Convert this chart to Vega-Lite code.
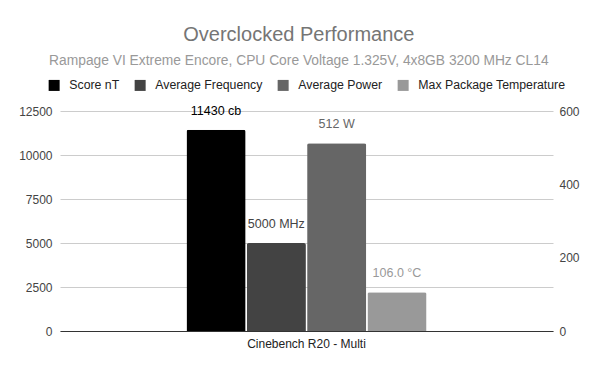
{
  "$schema": "https://vega.github.io/schema/vega-lite/v6.json",
  "width": 493,
  "height": 220,
  "padding": {"left": 18, "top": 25, "right": 0, "bottom": 0},
  "background": "#ffffff",
  "config": {
    "font": "Liberation Sans",
    "view": {"stroke": null},
    "axis": {"labelFont": "Liberation Sans", "labelColor": "#444444", "labelFontSize": 12, "titleFont": "Liberation Sans"},
    "legend": {"labelFont": "Liberation Sans", "layout": {"top": {"anchor": "middle"}}}
  },
  "title": {
    "text": "Overclocked Performance",
    "subtitle": "Rampage VI Extreme Encore, CPU Core Voltage 1.325V, 4x8GB 3200 MHz CL14",
    "fontSize": 20,
    "fontWeight": "normal",
    "color": "#757575",
    "subtitleFontSize": 13.8,
    "subtitleColor": "#999999",
    "subtitlePadding": 9,
    "anchor": "middle",
    "frame": "bounds",
    "offset": 11
  },
  "data": {
    "values": [
      {"benchmark": "Cinebench R20 - Multi", "series": "Score nT", "value": 11430, "label": "11430 cb", "axis": "left"},
      {"benchmark": "Cinebench R20 - Multi", "series": "Average Frequency", "value": 5000, "label": "5000 MHz", "axis": "left"},
      {"benchmark": "Cinebench R20 - Multi", "series": "Average Power", "value": 512, "label": "512 W", "axis": "right"},
      {"benchmark": "Cinebench R20 - Multi", "series": "Max Package Temperature", "value": 106.0, "label": "106.0 °C", "axis": "right"}
    ]
  },
  "encoding": {
    "x": {
      "field": "benchmark",
      "type": "nominal",
      "title": null,
      "scale": {"paddingInner": 0, "paddingOuter": 0.527},
      "axis": {"labelAngle": 0, "ticks": false, "domainColor": "#333333", "labelColor": "#222222", "labelPadding": 7, "grid": false}
    },
    "xOffset": {
      "field": "series",
      "type": "nominal",
      "scale": {"domain": ["Score nT", "Average Frequency", "Average Power", "Max Package Temperature"], "paddingInner": 0.02}
    },
    "color": {
      "field": "series",
      "type": "nominal",
      "scale": {
        "domain": ["Score nT", "Average Frequency", "Average Power", "Max Package Temperature"],
        "range": ["#000000", "#434343", "#666666", "#999999"]
      },
      "legend": {
        "title": null,
        "orient": "top",
        "direction": "horizontal",
        "symbolType": "square",
        "symbolSize": 121,
        "symbolStrokeWidth": 0,
        "labelFontSize": 12.3,
        "labelColor": "#222222",
        "columnPadding": 14,
        "labelOffset": 9,
        "offset": 19
      }
    }
  },
  "layer": [
    {
      "transform": [{"filter": "datum.axis == 'left'"}],
      "encoding": {
        "y": {
          "field": "value",
          "type": "quantitative",
          "title": null,
          "scale": {"domain": [0, 12500], "nice": false},
          "axis": {"values": [0, 2500, 5000, 7500, 10000, 12500], "format": "d", "ticks": false, "domain": false, "gridColor": "#cccccc", "labelPadding": 8}
        }
      },
      "layer": [
        {"mark": {"type": "bar", "cornerRadiusTopLeft": 2, "cornerRadiusTopRight": 2}},
        {
          "mark": {"type": "text", "baseline": "middle", "dy": -19, "fontSize": 12.5},
          "encoding": {"text": {"field": "label"}, "color": {"field": "series", "type": "nominal", "legend": null}}
        }
      ]
    },
    {
      "transform": [{"filter": "datum.axis == 'right'"}],
      "encoding": {
        "y": {
          "field": "value",
          "type": "quantitative",
          "title": null,
          "scale": {"domain": [0, 600], "nice": false},
          "axis": {"orient": "right", "values": [0, 200, 400, 600], "format": "d", "ticks": false, "domain": false, "grid": false, "labelPadding": 6}
        }
      },
      "layer": [
        {"mark": {"type": "bar", "cornerRadiusTopLeft": 2, "cornerRadiusTopRight": 2}},
        {
          "mark": {"type": "text", "baseline": "middle", "dy": -19, "fontSize": 12.5},
          "encoding": {"text": {"field": "label"}, "color": {"field": "series", "type": "nominal", "legend": null}}
        }
      ]
    }
  ],
  "resolve": {"scale": {"y": "independent"}}
}
